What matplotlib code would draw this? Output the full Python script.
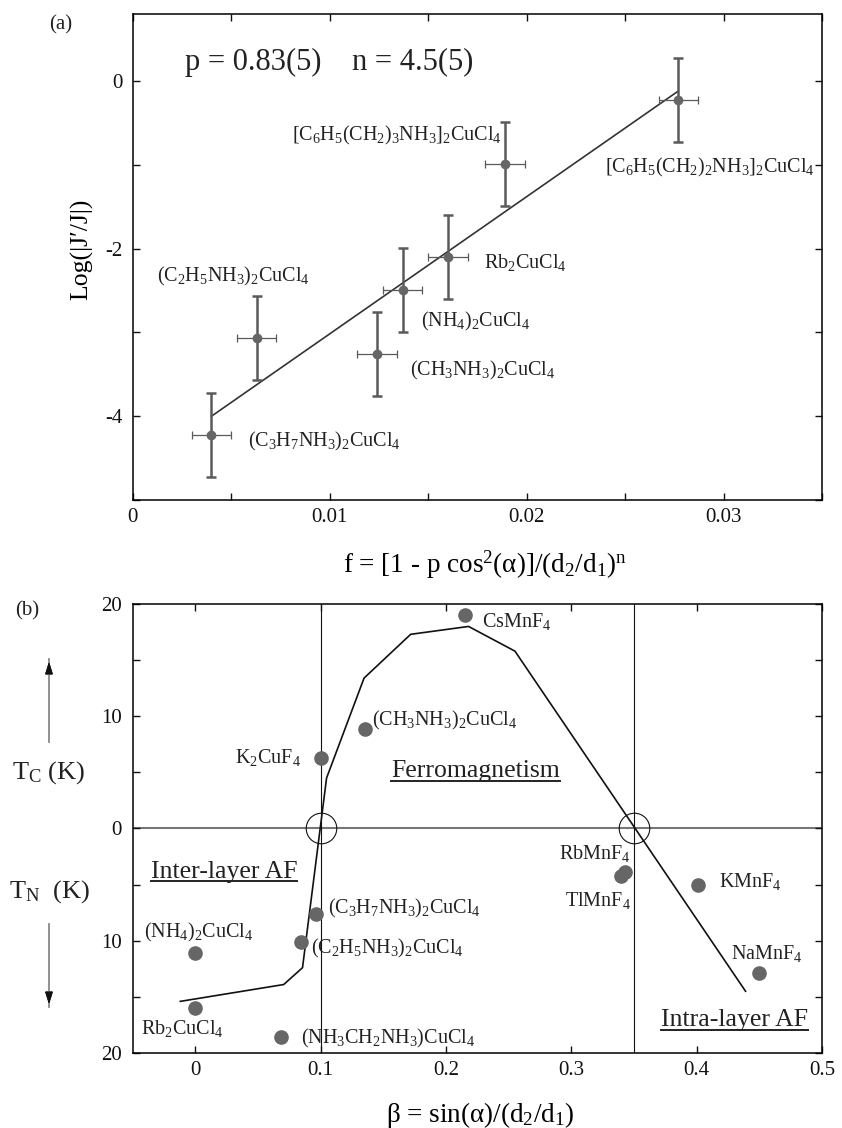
import matplotlib
matplotlib.use('Agg')
import matplotlib.pyplot as plt
from matplotlib.lines import Line2D
from matplotlib.ticker import MultipleLocator, FuncFormatter

plt.rcParams.update({
    'font.family': ['Liberation Serif', 'DejaVu Serif'],
    'mathtext.fontset': 'custom',
    'mathtext.rm': 'Liberation Serif',
    'mathtext.it': 'Liberation Serif:italic',
    'mathtext.bf': 'Liberation Serif:bold',
    'axes.unicode_minus': False,
    'axes.linewidth': 1.1,
    'text.color': '#222222',
})

DOT = '#666666'
ERR = '#5a5a5a'
INK = '#222222'

# ---- panel (a): log|J'/J| vs f ----
f_vals = [0.0040, 0.0063, 0.0124, 0.0137, 0.0160, 0.0189, 0.0277]
logj = [-4.22, -3.07, -3.26, -2.49, -2.10, -0.99, -0.23]
f_err = [0.001] * 7
logj_err = [0.5] * 7
names_a = [r'(C$_3$H$_7$NH$_3$)$_2$CuCl$_4$',
           r'(C$_2$H$_5$NH$_3$)$_2$CuCl$_4$',
           r'(CH$_3$NH$_3$)$_2$CuCl$_4$',
           r'(NH$_4$)$_2$CuCl$_4$',
           r'Rb$_2$CuCl$_4$',
           r'[C$_6$H$_5$(CH$_2$)$_3$NH$_3$]$_2$CuCl$_4$',
           r'[C$_6$H$_5$(CH$_2$)$_2$NH$_3$]$_2$CuCl$_4$']
label_a_xy = [(0.00585, -4.30), (0.00125, -2.33), (0.01408, -3.46),
              (0.01462, -2.87), (0.01786, -2.16), (0.00810, -0.65),
              (0.02400, -1.03)]
fit_f = [0.0040, 0.0277]
fit_logj = [-4.00, -0.12]

# ---- panel (b): T_C / T_N vs beta ----
compounds_b = [r'CsMnF$_4$', r'(CH$_3$NH$_3$)$_2$CuCl$_4$', r'K$_2$CuF$_4$',
               r'RbMnF$_4$', r'TlMnF$_4$', r'KMnF$_4$', r'NaMnF$_4$',
               r'(C$_3$H$_7$NH$_3$)$_2$CuCl$_4$', r'(C$_2$H$_5$NH$_3$)$_2$CuCl$_4$',
               r'(NH$_4$)$_2$CuCl$_4$', r'Rb$_2$CuCl$_4$',
               r'(NH$_3$CH$_2$NH$_3$)CuCl$_4$']
beta = [0.215, 0.1355, 0.100, 0.343, 0.340, 0.401, 0.450,
        0.0966, 0.0842, 0.0, 0.0, 0.0684]
temp = [19.0, 8.9, 6.3, -3.9, -4.2, -5.0, -12.9,
        -7.6, -10.1, -11.1, -16.0, -18.6]   # T_N drawn as negative
label_b_xy = [(0.229, 18.4, 'left'), (0.141, 9.6, 'left'), (0.084, 6.3, 'right'),
              (0.347, -2.2, 'right'), (0.348, -6.4, 'right'), (0.418, -4.7, 'left'),
              (0.427, -11.1, 'left'), (0.106, -7.1, 'left'), (0.092, -10.7, 'left'),
              (-0.041, -9.3, 'left'), (-0.043, -17.8, 'left'), (0.084, -18.7, 'left')]
curve_beta = [-0.012, 0.0705, 0.0855, 0.1047, 0.1346, 0.1718, 0.218, 0.255, 0.439]
curve_t = [-15.4, -13.9, -12.4, 4.5, 13.4, 17.3, 18.0, 15.8, -14.5]
boundaries = [0.10, 0.35]
regions = [('Ferromagnetism', 0.2235, 4.55), ('Inter-layer AF', 0.023, -4.4),
           ('Intra-layer AF', 0.430, -17.6)]

W, H = 842, 1128
fig = plt.figure(figsize=(W / 100, H / 100), dpi=100)


def px_box(l, t, r, b):
    return [l / W, 1 - b / H, (r - l) / W, (b - t) / H]


def style_ticks(ax):
    ax.tick_params(which='both', direction='in', top=True, right=True,
                   length=5, width=1, labelsize=15, colors='#111111')
    ax.tick_params(axis='x', pad=6)
    ax.tick_params(axis='y', pad=7)


ax = fig.add_axes(px_box(132.7, 14, 822, 500))
ax.errorbar(f_vals, logj, yerr=logj_err, fmt='none', ecolor=ERR,
            elinewidth=1.8, capsize=3.5, capthick=1.8, zorder=3)
ax.errorbar(f_vals, logj, xerr=f_err, fmt='none', ecolor=ERR,
            elinewidth=0.9, capsize=3, capthick=0.9, zorder=3)
ax.plot(f_vals, logj, 'o', ms=6, color=DOT, zorder=4)
ax.plot(fit_f, fit_logj, '-', color='#333333', lw=1.2, zorder=2)
for name, (x, y) in zip(names_a, label_a_xy):
    ax.text(x, y, name, fontsize=14.5, ha='left', va='center', color=INK)
ax.text(0.00264, 0.22, 'p = 0.83(5)    n = 4.5(5)', fontsize=22,
        ha='left', va='center', color=INK)
ax.set_xlim(0, 0.035)
ax.set_ylim(-5, 0.8)
ax.xaxis.set_major_locator(MultipleLocator(0.005))
ax.yaxis.set_major_locator(MultipleLocator(1))
ax.xaxis.set_major_formatter(FuncFormatter(
    lambda v, p: ('0' if abs(v) < 1e-9 else f'{v:.2f}') if abs(round(v / 0.01) * 0.01 - v) < 1e-9 else ''))
ax.yaxis.set_major_formatter(FuncFormatter(
    lambda v, p: f'{int(round(v))}' if int(round(v)) % 2 == 0 else ''))
style_ticks(ax)
ax.set_xlabel(r'f = [1 - p cos$^2$(α)]/(d$_2$/d$_1$)$^\mathrm{n}$', fontsize=19.5,
              va='center')
ax.xaxis.set_label_coords(0.511, -0.134)
ax.set_ylabel('Log(|J′/J|)', fontsize=18.5, va='center')
ax.yaxis.set_label_coords(-0.0736, 0.515)

bx = fig.add_axes(px_box(132.7, 604, 822, 1053))
bx.axhline(0, color='#777777', lw=1.5, zorder=1)
for b in boundaries:
    bx.axvline(b, color='#111111', lw=0.8, zorder=1)
    bx.plot([b], [0], 'o', ms=22, mfc='none', mec='#111111', mew=0.8, zorder=2)
bx.plot(curve_beta, curve_t, '-', color='#111111', lw=1.2, zorder=3)
bx.plot(beta, temp, 'o', ms=9.5, color=DOT, zorder=4)
for name, (x, y, ha) in zip(compounds_b, label_b_xy):
    bx.text(x, y, name, fontsize=14.5, ha=ha, va='center', color=INK)
region_texts = [bx.text(x, y, s, fontsize=18.5, ha='center', va='baseline', color=INK)
                for s, x, y in regions]
bx.set_xlim(-0.05, 0.5)
bx.set_ylim(-20, 20)
bx.xaxis.set_major_locator(MultipleLocator(0.1))
bx.yaxis.set_major_locator(MultipleLocator(5))
bx.xaxis.set_major_formatter(FuncFormatter(
    lambda v, p: '0' if abs(v) < 1e-9 else f'{v:.1f}'))
bx.yaxis.set_major_formatter(FuncFormatter(
    lambda v, p: f'{abs(int(round(v)))}' if int(round(v)) % 10 == 0 else ''))
style_ticks(bx)
bx.tick_params(axis='y', pad=8)
bx.set_xlabel(r'β = sin(α)/(d$_2$/d$_1$)', fontsize=19.5, va='center')
bx.xaxis.set_label_coords(0.504, -0.138)

# side annotations of panel (b)
def fy(py):
    return 1 - py / H


fig.text(49 / W, fy(773), r'T$_\mathrm{C}$ (K)', fontsize=19, ha='center', va='center')
fig.text(49 / W, fy(892), r'T$_\mathrm{N}$  (K)', fontsize=19, ha='center', va='center')
for tail, tip in [(742, 659), (924, 1007)]:
    fig.add_artist(Line2D([49 / W, 49 / W], [fy(tail), fy(tip)],
                          color='#888888', lw=1.3))
    d = 1 if tip < tail else -1
    fig.add_artist(plt.annotate('', xy=(49 / W, fy(tip)),
                                xytext=(49 / W, fy(tip + d * 10)),
                                xycoords='figure fraction',
                                arrowprops=dict(arrowstyle='-|>,head_length=0.7,head_width=0.22',
                                                color='#111111', lw=1.0)))

fig.text(61 / W, fy(25), '(a)', fontsize=15, ha='center', va='center')
fig.text(27 / W, fy(611), '(b)', fontsize=15, ha='center', va='center')

# underline the region names
fig.canvas.draw()
rend = fig.canvas.get_renderer()
for t in region_texts:
    bb = t.get_window_extent(rend)
    base = bx.transData.transform(t.get_position())[1] - 3.5
    fig.add_artist(Line2D([bb.x0 / W, bb.x1 / W], [base / H, base / H],
                          color=INK, lw=1.4))

fig.savefig('out.png', dpi=100, facecolor='white')
